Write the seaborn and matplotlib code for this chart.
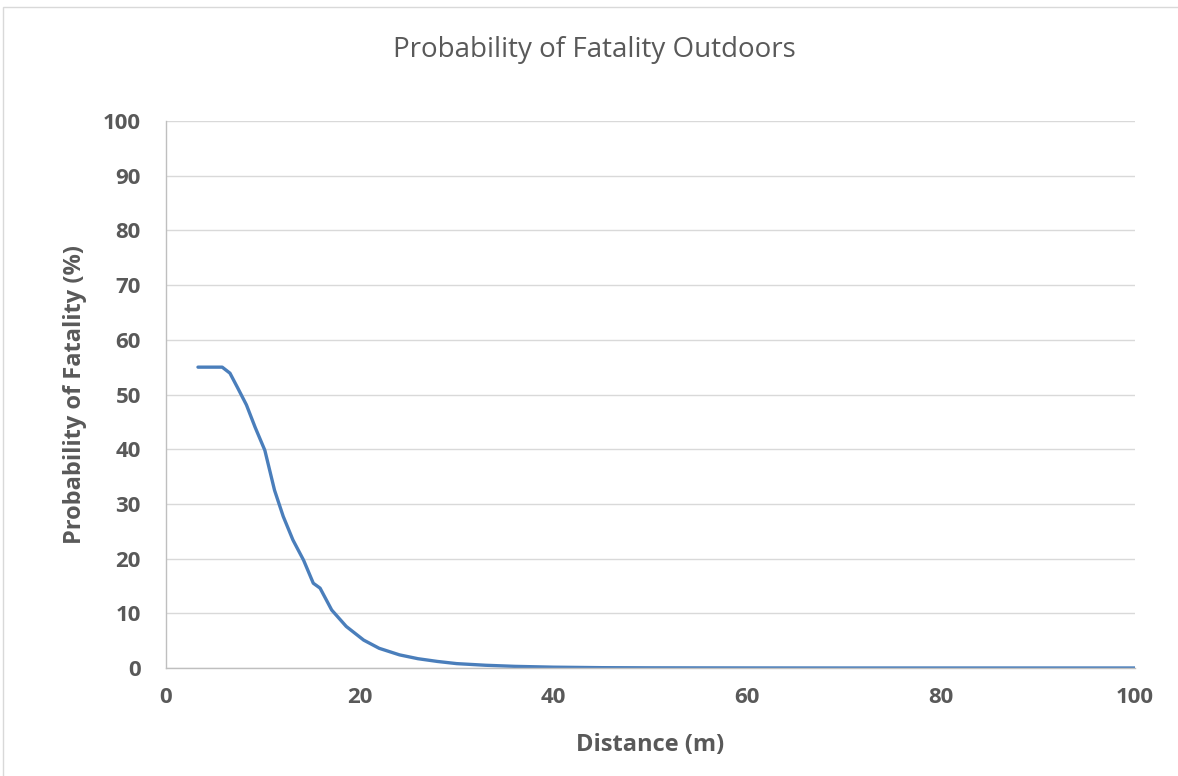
import matplotlib
matplotlib.use("Agg")
import matplotlib.pyplot as plt
from matplotlib.patches import Rectangle
import seaborn as sns
import pandas as pd

distance = [3.3, 4.5, 5.8, 6.6, 7.4, 8.3, 9.2, 10.2, 11.2, 12.1, 13.1, 14.2, 15.2, 15.9,
            17.1, 18.6, 20.4, 22.0, 24.1, 26.0, 28.0, 30.0, 33.0, 36.0, 40.0, 45.0,
            50.0, 60.0, 70.0, 80.0, 90.0, 100.0]
probability = [55.0, 55.0, 55.0, 53.9, 51.2, 48.1, 44.0, 39.8, 32.5, 27.7, 23.4, 19.7, 15.5, 14.6,
               10.6, 7.6, 5.1, 3.6, 2.4, 1.7, 1.2, 0.8, 0.5, 0.3, 0.15, 0.06,
               0.03, 0.01, 0.0, 0.0, 0.0, 0.0]

title = "Probability of Fatality Outdoors"
xlabel = "Distance (m)"
ylabel = "Probability of Fatality (%)"

df = pd.DataFrame({"distance": distance, "probability": probability})

sns.set_theme(style="white")
plt.rcParams["font.family"] = ["Open Sans", "DejaVu Sans"]

fig = plt.figure(figsize=(11.78, 7.76), dpi=100)
ax = fig.add_axes([166/1178, 1 - 668/776, (1135 - 166)/1178, (668 - 121)/776])

sns.lineplot(data=df, x="distance", y="probability", ax=ax, color="#4a7ebb", linewidth=2.4)

ax.set_xlim(0, 100)
ax.set_ylim(0, 100)
ax.set_xticks(range(0, 101, 20))
ax.set_yticks(range(0, 101, 10))
ax.grid(axis="y", color="#d9d9d9", linewidth=1)
ax.grid(axis="x", visible=False)
for s in ["top", "right"]:
    ax.spines[s].set_visible(False)
for s in ["left", "bottom"]:
    ax.spines[s].set_color("#bfbfbf")
    ax.spines[s].set_linewidth(1)
ax.tick_params(axis="both", length=0, labelsize=16, labelcolor="#595959")
ax.tick_params(axis="y", pad=18)
ax.tick_params(axis="x", pad=14)
for lbl in ax.get_xticklabels() + ax.get_yticklabels():
    lbl.set_fontweight("bold")

ax.set_xlabel(xlabel, fontsize=17, fontweight="bold", color="#595959", va="center")
ax.set_ylabel(ylabel, fontsize=17, fontweight="bold", color="#595959", va="center")
ax.xaxis.set_label_coords(0.5, -(745 - 668) / 547)
ax.yaxis.set_label_coords(-(166 - 75) / 969, 0.5)
fig.text(594/1178, 1 - 50/776, title, ha="center", va="center", fontsize=20, color="#595959")

fig.patches.append(Rectangle((3/1178, -0.05), 1.2, 1 - 7/776 + 0.05, transform=fig.transFigure,
                             fill=False, edgecolor="#d9d9d9", linewidth=1))

fig.savefig("out.png", dpi=100)
